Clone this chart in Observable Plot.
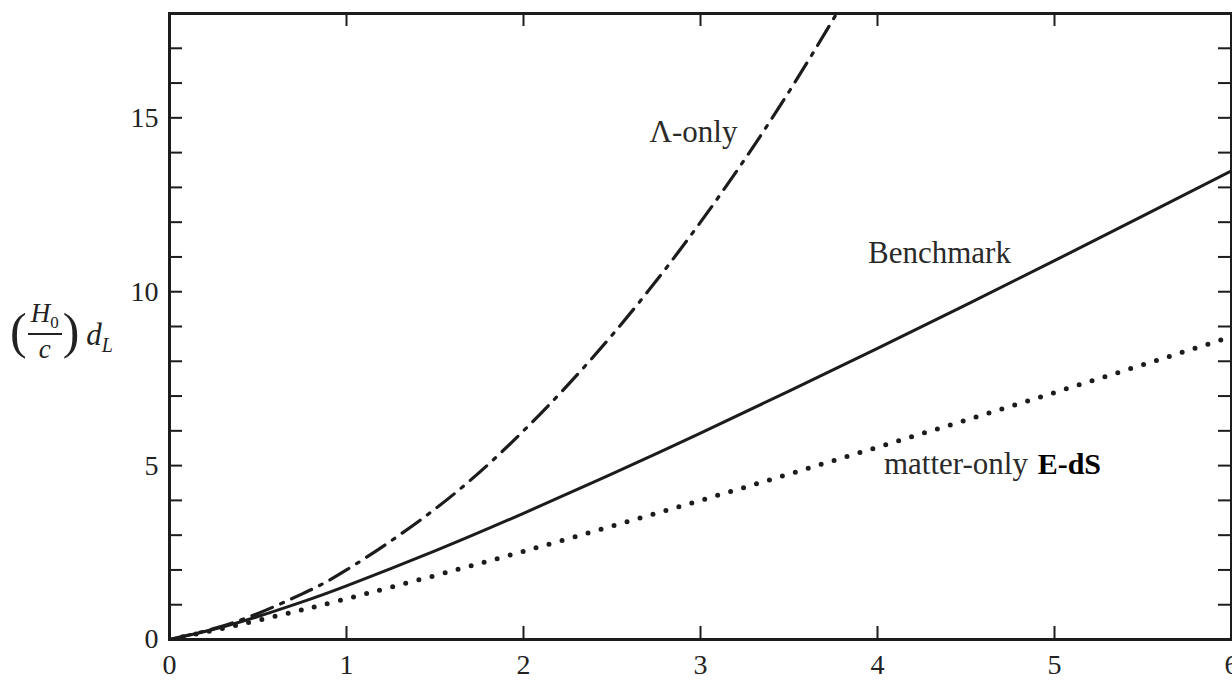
<!DOCTYPE html>
<html>
<head>
<meta charset="utf-8">
<script src="https://cdn.jsdelivr.net/npm/d3@7"></script>
<script src="https://cdn.jsdelivr.net/npm/@observablehq/plot@0.6"></script>
<style>
  html, body { margin: 0; padding: 0; background: #fff; overflow: hidden; }
  #wrap { position: relative; width: 1232px; height: 681px; }
  #chart { position: absolute; left: 0; top: 0; }
  #ylab { position: absolute; left: 10px; top: 299px; font-family: "Liberation Serif", serif; color: #222;
          display: flex; align-items: center; font-size: 27px; }
  #ylab .par { font-size: 50px; line-height: 1; }
  #ylab .frac { display: inline-flex; flex-direction: column; align-items: center; line-height: 1.05; margin: 0 1px; }
  #ylab .num { border-bottom: 2px solid #222; padding: 0 3px 1px 3px; }
  #ylab sub { font-size: 17px; }
  #ylab .dl { margin-left: 7px; margin-top: 12px; font-size: 31px; }
  #ylab .dl sub { font-size: 20px; }
</style>
</head>
<body>
<div id="wrap">
  <div id="chart"></div>
  <div id="ylab"><span class="par">(</span><span class="frac"><span class="num"><i>H</i><sub>0</sub></span><span><i>c</i></span></span><span class="par">)</span><span class="dl"><i>d</i><sub><i>L</i></sub></span></div>
</div>
<script>
// Redshift samples and luminosity distances (in units of c/H0)
const z = [0, 0.25, 0.5, 0.75, 1, 1.5, 2, 2.5, 3, 3.5, 4, 4.5, 5, 5.5, 6];
const benchmark = [0, 0.294, 0.662, 1.082, 1.543, 2.547, 3.628, 4.762, 5.936, 7.141, 8.371, 9.623, 10.893, 12.179, 13.479];
const matterOnly = [0, 0.264, 0.551, 0.854, 1.172, 1.838, 2.536, 3.258, 4.0, 4.757, 5.528, 6.310, 7.101, 7.901, 8.708];
const zLambda = [0, 0.25, 0.5, 0.75, 1, 1.5, 2, 2.5, 3, 3.5, 4];
const lambdaOnly = [0, 0.3125, 0.75, 1.3125, 2, 3.75, 6, 8.75, 12, 15.75, 20];

const xTicks = [0, 1, 2, 3, 4, 5, 6];
const yLabelTicks = [0, 5, 10, 15];
const yMinorTicks = d3.range(0, 19);

const centeredLabels = [
  {x: 2.96, y: 14.6, text: "Λ-only"},
  {x: 4.35, y: 11.1, text: "Benchmark"}
];
const endLabels = [{x: 4.85, y: 5.04, text: "matter-only"}];
const boldLabels = [{x: 4.905, y: 5.04, text: "E-dS"}];

const bench = z.map((v, i) => ({z: v, d: benchmark[i]}));
const matter = z.map((v, i) => ({z: v, d: matterOnly[i]}));
const lam = zLambda.map((v, i) => ({z: v, d: lambdaOnly[i]}));

const W = 1232, H = 681;
const mL = 169, mR = 1, mT = 13, mB = 42;
const innerW = W - mL - mR, innerH = H - mT - mB;
const tickLen = 13;
const ink = "#1c1c1c";

const chart = Plot.plot({
  width: W, height: H,
  marginLeft: mL, marginRight: mR, marginTop: mT, marginBottom: mB,
  style: {fontFamily: "'Liberation Serif', serif", fontSize: "28px", color: "#222", background: "#fff"},
  x: {domain: [0, 6]},
  y: {domain: [0, 18]},
  marks: [
    // inward ticks on all four sides
    Plot.tickX(xTicks, {x: d => d, insetTop: innerH - tickLen, stroke: ink, strokeWidth: 2}),
    Plot.tickX(xTicks, {x: d => d, insetBottom: innerH - tickLen, stroke: ink, strokeWidth: 2}),
    Plot.tickY(yMinorTicks, {y: d => d, insetRight: innerW - tickLen, stroke: ink, strokeWidth: 2}),
    Plot.tickY(yMinorTicks, {y: d => d, insetLeft: innerW - tickLen, stroke: ink, strokeWidth: 2}),
    Plot.axisX(xTicks, {tickSize: 0, tickPadding: 15, label: null, fontSize: 28, tickFormat: d3.format("d")}),
    Plot.axisY(yLabelTicks, {tickSize: 0, tickPadding: 11, label: null, fontSize: 28, tickFormat: d3.format("d")}),
    // curves
    Plot.line(lam, {x: "z", y: "d", curve: "natural", stroke: ink, strokeWidth: 3.2,
      strokeDasharray: "22 9 3 9", clip: true}),
    Plot.line(bench, {x: "z", y: "d", curve: "natural", stroke: ink, strokeWidth: 3, clip: true}),
    Plot.line(matter, {x: "z", y: "d", curve: "natural", stroke: ink, strokeWidth: 5,
      strokeDasharray: "0 13.5", strokeLinecap: "round", clip: true}),
    // curve labels
    Plot.text(centeredLabels, {x: "x", y: "y", text: "text", textAnchor: "middle",
      fontSize: 31, fill: "#2a2a2a", lineAnchor: "middle"}),
    Plot.text(endLabels, {x: "x", y: "y", text: "text", textAnchor: "end",
      fontSize: 31, fill: "#2a2a2a", lineAnchor: "middle"}),
    Plot.text(boldLabels, {x: "x", y: "y", text: "text", textAnchor: "start",
      fontSize: 30, fontWeight: "bold", fill: "#000", lineAnchor: "middle"}),
    Plot.frame({stroke: ink, strokeWidth: 3})
  ]
});

document.getElementById("chart").appendChild(chart);
</script>
</body>
</html>
